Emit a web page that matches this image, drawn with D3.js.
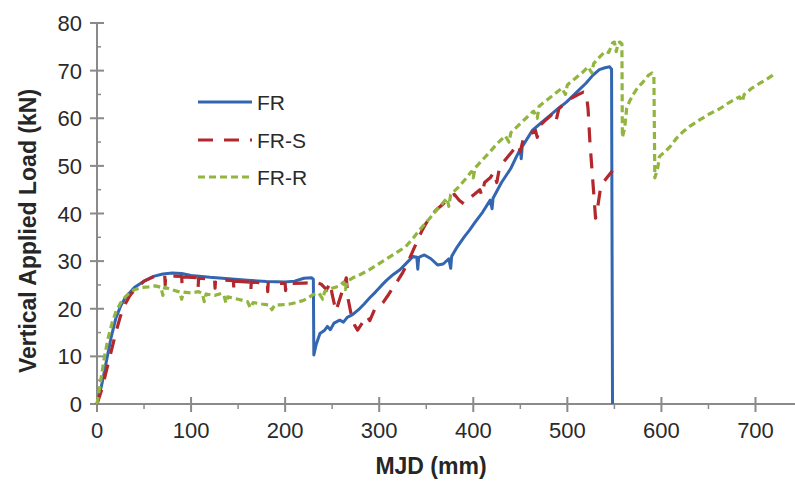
<!DOCTYPE html>
<html>
<head>
<meta charset="utf-8">
<script src="https://cdn.jsdelivr.net/npm/d3@7"></script>
<style>
  body { margin: 0; background: #fff; }
  svg { display: block; font-family: Arial, "Liberation Sans", sans-serif; }
</style>
</head>
<body>
<div id="chart"></div>
<script>
// MJD (mm), load (kN) pairs
const frData = [[0,0],[5,4],[10,9],[15,14],[20,18],[25,20.5],[30,22.3],[40,24.5],[50,25.8],[60,26.8],[70,27.3],[80,27.5],[90,27.4],[100,27],[120,26.6],[140,26.3],[160,26],[180,25.7],[200,25.6],[210,25.8],[220,26.4],[228,26.5],[230,26.2],[230.5,10.3],[233,12.5],[237,14.8],[242,15.5],[245,16.3],[248,15.6],[252,17],[258,17.6],[262,17.2],[266,18.2],[272,18.8],[278,19.8],[284,21],[290,22.3],[296,23.5],[302,24.8],[308,26],[315,27.2],[322,28.2],[330,29.8],[336,31],[340,30.8],[341,28.3],[342,30.8],[348,31.3],[355,30.5],[362,29.2],[368,29.4],[374,30.5],[376,28.5],[377,31],[383,33],[390,35],[396,36.5],[402,38.2],[410,40.3],[418,42.8],[420,41],[421,43.2],[430,46.5],[440,49.5],[446,52],[450,53.5],[451,51.5],[452,54],[463,57.5],[472,59],[481,60.5],[490,62],[499,63.4],[510,65.5],[520,67.4],[527,69],[534,70.2],[540,70.6],[545,70.8],[547,70.3],[548,0]];

const frsData = [[0,0],[5,3],[10,7],[15,11],[20,15],[25,18.5],[30,21],[35,22.8],[40,24],[50,25.8],[60,26.7],[70,27],[72,27],[72.5,25],[73,26.9],[90,26.8],[90.5,24.8],[91,26.7],[107,26.5],[107.5,24.5],[108,26.4],[125,26.2],[125.5,24.3],[126,26.1],[145,25.9],[145.5,24],[146,25.8],[163,25.6],[163.5,23.8],[164,25.6],[181,25.4],[181.5,23.6],[182,25.4],[200,25.3],[200.5,23.8],[201,25.3],[220,25.4],[232,25.5],[238,25.2],[244,24],[248,25.5],[250,23],[254,19.5],[258,22],[262,24.5],[265,26.5],[267,22],[270,19],[274,16.5],[277,15.5],[282,17],[287,18.5],[290,17.5],[295,19.8],[300,20.5],[304,21.3],[310,23],[315,24.5],[320,26],[325,27.6],[330,29.5],[335,31.8],[340,34],[345,36.2],[350,38],[356,39.8],[362,41],[368,42],[375,43.5],[380,44],[385,42.8],[390,42],[398,43.5],[407,45],[409,43.8],[412,46.5],[418,47.5],[422,48.7],[425,46.5],[428,49.8],[435,51.5],[442,53.2],[448,54.5],[450,53],[453,55.5],[460,56.5],[466,57.5],[468,56],[471,58.5],[478,59.8],[485,61],[488,59.5],[491,62],[498,63.3],[505,64.3],[512,65],[517,65.5],[520,65.3],[522,62],[524,55],[527,47],[530,39],[532,41],[535,45],[538,46.5],[542,47.5],[546,48.5],[548,49]];

const frrData = [[0,0],[4,5],[8,10],[12,14],[16,17],[20,19.3],[25,21.2],[30,22.5],[35,23.4],[40,24],[48,24.5],[55,24.6],[62,24.8],[68,24.5],[70,22.8],[72,24.5],[80,24],[88,23.5],[90,22],[92,23.5],[100,23.3],[108,23.6],[112,23.2],[114,21.5],[116,23.1],[125,22.8],[132,23.2],[135,22.8],[137,21.2],[139,22.5],[150,22],[160,21.5],[163,20.2],[166,21.3],[175,21],[183,20.8],[186,19.8],[189,20.8],[195,20.8],[205,21],[212,21.3],[220,21.8],[226,22.5],[230,23],[236,23.3],[240,22],[242,23.6],[250,24.3],[258,24.8],[262,25.6],[264,24],[266,25.8],[272,26.5],[280,27.2],[288,28],[296,29],[304,30],[312,31],[320,32],[328,33],[336,34.8],[344,36.8],[352,38.6],[360,40.5],[368,42.3],[372,43.2],[374,41.5],[376,44],[384,45.5],[392,47.3],[398,48.8],[400,47.5],[402,49.6],[410,51.3],[418,53],[426,54.8],[434,56.3],[438,55],[440,57],[448,58.5],[456,60],[464,61.5],[468,60],[470,62.5],[478,63.8],[486,65],[494,66.3],[498,65],[500,67],[508,68.3],[516,69.6],[522,70.8],[526,69.5],[528,71.5],[535,73],[540,74],[544,73.8],[548,75.8],[550,76],[552,74],[554,75.8],[556,76],[558,75.6],[558.5,56],[561,58],[563,62],[566,63.5],[570,65],[575,66.5],[580,67.5],[586,69],[590,69.5],[592,68.8],[593,47.5],[596,49.5],[598,52],[604,53],[610,54.2],[616,55.8],[622,57],[630,58.3],[641,59.7],[652,61],[662,62],[672,63.3],[683,64.5],[686,63.5],[688,65],[696,66.3],[705,67.4],[712,68.2],[718,69],[720,69.3]];

const seriesNames = ["FR", "FR-S", "FR-R"];
const xTicks = [0, 100, 200, 300, 400, 500, 600, 700];
const yTicks = [0, 10, 20, 30, 40, 50, 60, 70, 80];

const width = 795, height = 482;
const colors = {"FR": "#3366b1", "FR-S": "#b3282c", "FR-R": "#92b540"};
const dashes = {"FR": null, "FR-S": "15,11", "FR-R": "7,4"};

const svg = d3.select("#chart").append("svg")
    .attr("width", width)
    .attr("height", height);

const x = d3.scaleLinear().domain([0, 742]).range([97, 795]);
const y = d3.scaleLinear().domain([0, 80]).range([404, 23]);

const axisColor = "#8a8a8a";

// y axis
svg.append("line")
    .attr("x1", x(0)).attr("x2", x(0))
    .attr("y1", y(0)).attr("y2", y(80))
    .attr("stroke", axisColor).attr("stroke-width", 2);
svg.selectAll(".ymajor").data(yTicks).enter().append("line")
    .attr("x1", x(0) - 7).attr("x2", x(0) + 7)
    .attr("y1", d => y(d)).attr("y2", d => y(d))
    .attr("stroke", axisColor).attr("stroke-width", 2);
svg.selectAll(".yminor").data(d3.range(5, 80, 10)).enter().append("line")
    .attr("x1", x(0)).attr("x2", x(0) + 4)
    .attr("y1", d => y(d)).attr("y2", d => y(d))
    .attr("stroke", axisColor).attr("stroke-width", 1.5);
svg.selectAll(".ylab").data(yTicks).enter().append("text")
    .attr("x", 82)
    .attr("y", d => y(d) + 8)
    .attr("text-anchor", "end")
    .style("font-size", "22px")
    .style("fill", "#2a2a2a")
    .text(d => d);

// x axis
svg.append("line")
    .attr("x1", x(0)).attr("x2", width)
    .attr("y1", y(0)).attr("y2", y(0))
    .attr("stroke", axisColor).attr("stroke-width", 2);
svg.selectAll(".xmajor").data(xTicks).enter().append("line")
    .attr("x1", d => x(d)).attr("x2", d => x(d))
    .attr("y1", y(0) - 7).attr("y2", y(0) + 8)
    .attr("stroke", axisColor).attr("stroke-width", 2);
svg.selectAll(".xminor").data(d3.range(50, 750, 100)).enter().append("line")
    .attr("x1", d => x(d)).attr("x2", d => x(d))
    .attr("y1", y(0)).attr("y2", y(0) + 5)
    .attr("stroke", axisColor).attr("stroke-width", 1.5);
svg.selectAll(".xlab").data(xTicks).enter().append("text")
    .attr("x", d => x(d))
    .attr("y", 438)
    .attr("text-anchor", "middle")
    .style("font-size", "22px")
    .style("fill", "#2a2a2a")
    .text(d => d);

// axis titles
svg.append("text")
    .attr("x", 431)
    .attr("y", 474)
    .attr("text-anchor", "middle")
    .style("font-size", "23px")
    .style("font-weight", "bold")
    .style("fill", "#262626")
    .text("MJD (mm)");

svg.append("text")
    .attr("transform", "translate(36, 231) rotate(-90)")
    .attr("text-anchor", "middle")
    .style("font-size", "23px")
    .style("font-weight", "bold")
    .style("fill", "#262626")
    .text("Vertical Applied Load (kN)");

// curves
const line = d3.line().x(d => x(d[0])).y(d => y(d[1]));
const allData = {"FR": frData, "FR-S": frsData, "FR-R": frrData};

seriesNames.forEach(name => {
    svg.append("path")
        .datum(allData[name])
        .attr("d", line)
        .attr("fill", "none")
        .attr("stroke", colors[name])
        .attr("stroke-width", name === "FR" ? 3 : 3.2)
        .attr("stroke-linejoin", "round")
        .attr("stroke-dasharray", dashes[name]);
});

// legend
const legendY = [102, 140, 177];
seriesNames.forEach((name, i) => {
    svg.append("line")
        .attr("x1", 198).attr("x2", 252)
        .attr("y1", legendY[i]).attr("y2", legendY[i])
        .attr("stroke", colors[name])
        .attr("stroke-width", 3.2)
        .attr("stroke-dasharray", dashes[name]);
    svg.append("text")
        .attr("x", 257)
        .attr("y", legendY[i] + 8)
        .style("font-size", "21px")
        .style("fill", "#2a2a2a")
        .text(name);
});
</script>
</body>
</html>
